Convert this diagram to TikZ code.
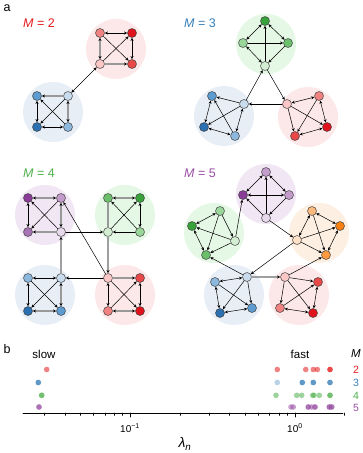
\documentclass[tikz,border=0pt]{standalone}
\usepackage{fontspec}
\setmainfont{Liberation Sans}
\usetikzlibrary{arrows.meta}
\definecolor{darkgray}{RGB}{60,60,60}
% node shades, hub lightest
\definecolor{r1}{HTML}{FBC6C6}
\definecolor{r2}{HTML}{F08282}
\definecolor{r3}{HTML}{E94848}
\definecolor{r4}{HTML}{E0121C}
\definecolor{b1}{HTML}{C9DCEE}
\definecolor{b2}{HTML}{8DB8DE}
\definecolor{b3}{HTML}{5C9CD1}
\definecolor{b4}{HTML}{2B70B0}
\definecolor{g1}{HTML}{D3EDD3}
\definecolor{g2}{HTML}{9AD59A}
\definecolor{g3}{HTML}{6CC06C}
\definecolor{g4}{HTML}{38A33A}
\definecolor{p1}{HTML}{E8DAEC}
\definecolor{p2}{HTML}{C49CCC}
\definecolor{p3}{HTML}{A873B4}
\definecolor{p4}{HTML}{8A3C98}
\definecolor{o1}{HTML}{FDE2C8}
\definecolor{o2}{HTML}{FDBA7C}
\definecolor{o3}{HTML}{FD9A40}
\definecolor{o4}{HTML}{F88012}
% cluster backgrounds
\definecolor{bgr}{HTML}{FCE8E8}
\definecolor{bgb}{HTML}{E8EEF6}
\definecolor{bgg}{HTML}{E5F8E5}
\definecolor{bgp}{HTML}{F1E6F3}
\definecolor{bgo}{HTML}{FDEFE2}
% text and dots
\definecolor{cr}{HTML}{E41A1C}
\definecolor{cb}{HTML}{377EB8}
\definecolor{cg}{HTML}{4DAF4A}
\definecolor{cp}{HTML}{984EA3}
\tikzset{
    lab/.style={
        font=\fontsize{12.5}{15}\selectfont
    }
}

\begin{document}
\begin{tikzpicture}[x=1pt, y=-1pt, line cap=round, line join=round]

\tikzset{
  main/.style={draw=black, line width=0.5pt},
  heavy/.style={draw=gray!80, line width=1.1pt},
  heavier/.style={draw=gray!75, line width=1.8pt},
  vtx/.style={circle, draw=darkgray, line width=0.5pt, minimum size=9pt, inner sep=0pt},
  bgc/.style={radius=30},
  >={Stealth[length=3.2pt, width=3pt, color=black]},
}

\useasboundingbox (0,0) rectangle (362,453);

% panel letters and titles
\node[lab] (la) at (7,8) {a};
\node[lab] (lb) at (7,349) {b};
\node[lab, text=cr] (t2) at (39,23) {\textit{M} = 2};
\node[lab, text=cb] (t3) at (200,23) {\textit{M} = 3};
\node[lab, text=cg] (t4) at (39,173) {\textit{M} = 4};
\node[lab, text=cp] (t5) at (200,173) {\textit{M} = 5};

% backgrounds
\fill[bgr] (116,49) circle[bgc];
\fill[bgb] (53,112) circle[bgc];
\fill[bgg] (266,44) circle[bgc];
\fill[bgb] (224,116) circle[bgc];
\fill[bgr] (308,117) circle[bgc];
\fill[bgp] (45,215) circle[bgc];
\fill[bgg] (125,215) circle[bgc];
\fill[bgb] (45,295) circle[bgc];
\fill[bgr] (125,295) circle[bgc];
\fill[bgp] (266,194) circle[bgc];
\fill[bgg] (214,233) circle[bgc];
\fill[bgo] (319,233) circle[bgc];
\fill[bgb] (234,295) circle[bgc];
\fill[bgr] (299,295) circle[bgc];

% M = 2 vertices
\node[vtx, fill=r2] (R2a) at (100,33) {};
\node[vtx, fill=r4] (R2b) at (132,33) {};
\node[vtx, fill=r3] (R2c) at (132,64) {};
\node[vtx, fill=r1] (R2h) at (100,64) {};
\node[vtx, fill=b1] (B2h) at (68,96) {};
\node[vtx, fill=b3] (B2a) at (37,96) {};
\node[vtx, fill=b4] (B2c) at (37,127) {};
\node[vtx, fill=b2] (B2b) at (68,127) {};

% M = 3 vertices
\node[vtx, fill=g4] (G3t) at (265,21) {};
\node[vtx, fill=g2] (G3l) at (243,43) {};
\node[vtx, fill=g3] (G3r) at (288,43) {};
\node[vtx, fill=g1] (G3h) at (265,66) {};
\node[vtx, fill=b1] (B3h) at (244,104) {};
\node[vtx, fill=b3] (B3a) at (212,96) {};
\node[vtx, fill=b4] (B3c) at (204,127) {};
\node[vtx, fill=b2] (B3b) at (235,136) {};
\node[vtx, fill=r1] (R3h) at (287,104) {};
\node[vtx, fill=r2] (R3a) at (319,96) {};
\node[vtx, fill=r4] (R3c) at (327,127) {};
\node[vtx, fill=r3] (R3b) at (295,136) {};

% M = 4 vertices
\node[vtx, fill=p4] (P4a) at (28,198) {};
\node[vtx, fill=p2] (P4b) at (61,198) {};
\node[vtx, fill=p3] (P4c) at (28,232) {};
\node[vtx, fill=p1] (P4h) at (61,232) {};
\node[vtx, fill=g3] (G4a) at (108,198) {};
\node[vtx, fill=g4] (G4b) at (140,198) {};
\node[vtx, fill=g1] (G4h) at (108,232) {};
\node[vtx, fill=g2] (G4c) at (140,232) {};
\node[vtx, fill=b2] (B4a) at (28,278) {};
\node[vtx, fill=b1] (B4h) at (61,278) {};
\node[vtx, fill=b4] (B4c) at (28,311) {};
\node[vtx, fill=b3] (B4b) at (61,311) {};
\node[vtx, fill=r1] (R4h) at (108,278) {};
\node[vtx, fill=r3] (R4a) at (140,278) {};
\node[vtx, fill=r2] (R4b) at (108,311) {};
\node[vtx, fill=r4] (R4c) at (140,311) {};

% M = 5 vertices
\node[vtx, fill=p2] (P5t) at (266,172) {};
\node[vtx, fill=p4] (P5l) at (243,195) {};
\node[vtx, fill=p2] (P5r) at (289,195) {};
\node[vtx, fill=p1] (P5h) at (266,218) {};
\node[vtx, fill=g2] (G5t) at (220,211) {};
\node[vtx, fill=g4] (G5l) at (192,226) {};
\node[vtx, fill=g1] (G5h) at (235,241) {};
\node[vtx, fill=g3] (G5b) at (206,255) {};
\node[vtx, fill=o2] (O5t) at (312,211) {};
\node[vtx, fill=o4] (O5r) at (340,226) {};
\node[vtx, fill=o3] (O5b) at (326,255) {};
\node[vtx, fill=o1] (O5h) at (297,240) {};
\node[vtx, fill=b1] (B5h) at (247,277) {};
\node[vtx, fill=b2] (B5l) at (215,282) {};
\node[vtx, fill=b4] (B5c) at (220,313) {};
\node[vtx, fill=b3] (B5b) at (252,308) {};
\node[vtx, fill=r1] (R5h) at (285,277) {};
\node[vtx, fill=r3] (R5a) at (318,282) {};
\node[vtx, fill=r4] (R5c) at (313,313) {};
\node[vtx, fill=r2] (R5b) at (280,308) {};

% M = 2 edges
\draw[main, <->] (R2a) -- (R2b);
\draw[heavy, <->] (R2a) -- (R2h);
\draw[main, <->] (R2b) -- (R2c);
\draw[heavy, ->] (R2h) -- (R2c);
\draw[main, ->] (R2h) -- (R2b);
\draw[main, ->] (R2a) -- (R2c);
\draw[heavy, ->] (B2h) -- (B2a);
\draw[heavy, <->] (B2h) -- (B2b);
\draw[main, <->] (B2a) -- (B2c);
\draw[main, <->] (B2c) -- (B2b);
\draw[main, ->] (B2h) -- (B2c);
\draw[main, ->] (B2b) -- (B2a);
\draw[main, <->] (R2h) -- (B2h);

% M = 3 edges
\draw[main, <->] (G3t) -- (G3l);
\draw[main, <->] (G3t) -- (G3r);
\draw[main, ->] (G3l) -- (G3r);
\draw[main, ->] (G3h) -- (G3t);
\draw[main, <->] (G3l) -- (G3h);
\draw[main, ->] (G3r) -- (G3h);
\draw[main, ->] (B3h) -- (B3a);
\draw[main, <->] (B3a) -- (B3c);
\draw[main, <->] (B3c) -- (B3b);
\draw[main, <->] (B3h) -- (B3b);
\draw[main, ->] (B3h) -- (B3c);
\draw[main, ->] (B3b) -- (B3a);
\draw[main, <->] (R3h) -- (R3a);
\draw[main, <->] (R3a) -- (R3c);
\draw[main, <->] (R3c) -- (R3b);
\draw[main, ->] (R3h) -- (R3b);
\draw[main, ->] (R3h) -- (R3c);
\draw[main, ->] (R3a) -- (R3b);
\draw[main, ->] (B3h) -- (G3h);
\draw[main, ->] (G3h) -- (R3h);
\draw[main, ->] (R3h) -- (B3h);

% M = 4 edges
\draw[heavy, <->] (P4a) -- (P4b);
\draw[main, <->] (P4a) -- (P4c);
\draw[heavy, <->] (P4b) -- (P4h);
\draw[heavy, ->] (P4h) -- (P4c);
\draw[main, ->] (P4h) -- (P4a);
\draw[main, ->] (P4b) -- (P4c);
\draw[heavy, <->] (G4a) -- (G4b);
\draw[main, <->] (G4b) -- (G4c);
\draw[main, ->] (G4c) -- (G4h);
\draw[main, ->] (G4h) -- (G4b);
\draw[main, ->] (G4c) -- (G4a);
\draw[heavy] (G4h) -- (G4a);
\draw[main, <->] (B4a) -- (B4h);
\draw[main, <->] (B4a) -- (B4c);
\draw[heavy, <->] (B4c) -- (B4b);
\draw[heavy, <->] (B4h) -- (B4b);
\draw[main, ->] (B4h) -- (B4c);
\draw[main, ->] (B4a) -- (B4b);
\draw[heavy, ->] (R4h) -- (R4a);
\draw[main, <->] (R4h) -- (R4b);
\draw[main, <->] (R4a) -- (R4c);
\draw[heavy, <->] (R4b) -- (R4c);
\draw[main, ->] (R4h) -- (R4c);
\draw[main, ->] (R4b) -- (R4a);
\draw[main, ->] (P4h) -- (G4h);
\draw[heavier, ->] (G4h) -- (R4h);
\draw[main, ->] (R4h) -- (B4h);
\draw[heavier, ->] (B4h) -- (P4h);
\draw[main, ->] (R4h) -- (P4b);

% M = 5 edges
\draw[main, <->] (P5t) -- (P5l);
\draw[main, <->] (P5t) -- (P5r);
\draw[main, <->] (P5l) -- (P5r);
\draw[main, ->] (P5h) -- (P5t);
\draw[main, ->] (P5h) -- (P5l);
\draw[main, ->] (P5r) -- (P5h);
\draw[main, <->] (G5t) -- (G5l);
\draw[main, <->] (G5l) -- (G5b);
\draw[main, ->] (G5t) -- (G5h);
\draw[main, ->] (G5t) -- (G5b);
\draw[main, ->] (G5h) -- (G5l);
\draw[main, ->] (G5h) -- (G5b);
\draw[main, <->] (O5t) -- (O5r);
\draw[main, <->] (O5r) -- (O5b);
\draw[main, <->] (O5t) -- (O5h);
\draw[main, ->] (O5h) -- (O5r);
\draw[main, ->] (O5h) -- (O5b);
\draw[main, ->] (O5t) -- (O5b);
\draw[main, <->] (B5h) -- (B5l);
\draw[main, <->] (B5l) -- (B5c);
\draw[main, <->] (B5c) -- (B5b);
\draw[main, ->] (B5h) -- (B5b);
\draw[main, ->] (B5h) -- (B5c);
\draw[main, ->] (B5l) -- (B5b);
\draw[main, ->] (R5h) -- (R5a);
\draw[main, <->] (R5a) -- (R5c);
\draw[main, <->] (R5c) -- (R5b);
\draw[main, ->] (R5h) -- (R5c);
\draw[main, ->] (R5b) -- (R5a);
\draw[main, ->] (R5h) -- (R5b);
\draw[main, ->] (P5h) -- (O5h);
\draw[main, ->] (O5h) -- (B5h);
\draw[main, ->] (B5h) -- (G5b);
\draw[main, ->] (G5h) -- (P5l);
\draw[heavier, ->] (B5h) -- (R5h);
\draw[main, ->] (R5h) -- (O5b);

% panel b: axis
\coordinate (ax0) at (23,413);
\coordinate (ax1) at (343,413);
\draw[line width=0.6pt] (ax0) -- (ax1);
\foreach \v in {0.03,0.04,0.05,0.06,0.07,0.08,0.09,0.2,0.3,0.4,0.5,0.6,0.7,0.8,0.9,2} {
  \pgfmathsetmacro\xx{295+165*log10(\v)}
  \draw[line width=0.4pt] (\xx,413) -- (\xx,415.5);
}
\draw[line width=0.6pt] (130,413) -- (130,417);
\draw[line width=0.6pt] (295,413) -- (295,417);
\node[font=\fontsize{10}{12}\selectfont] (tk1) at (130,428) {10\textsuperscript{−1}};
\node[font=\fontsize{10}{12}\selectfont] (tk0) at (295,428) {10\textsuperscript{0}};
\node[font=\fontsize{14}{16}\selectfont] (lam) at (185,444) {\textit{λ}\textsubscript{\textit{n}}};

\node[lab, font=\fontsize{11.5}{14}\selectfont] (slow) at (44,354) {slow};
\node[lab, font=\fontsize{11.5}{14}\selectfont] (fast) at (300,354) {fast};
\node[lab, font=\fontsize{11.5}{14}\selectfont] (Mm) at (356,354) {\textit{M}};
\node[font=\fontsize{10.5}{12}\selectfont, text=cr] (n2) at (356,369.5) {2};
\node[font=\fontsize{10.5}{12}\selectfont, text=cb] (n3) at (356,382.5) {3};
\node[font=\fontsize{10.5}{12}\selectfont, text=cg] (n4) at (356,395.5) {4};
\node[font=\fontsize{10.5}{12}\selectfont, text=cp] (n5) at (356,407.5) {5};

% eigenvalue dots (repeated = darker)
\foreach \x in {46.7,277.3,305.7,313.3,317.3,330,330}
  \fill[cr, opacity=0.55] (\x,369.5) circle[radius=2.8];
\foreach \x in {38.3,38.3,302.3,302.3,313.3,313.3,330,330}
  \fill[cb, opacity=0.55] (\x,382.5) circle[radius=2.8];
\fill[cb, opacity=0.35] (277.3,382.5) circle[radius=2.8];
\foreach \x in {41.7,41.7,276,296.7,301.7,312.7,314,319.3,330,330}
  \fill[cg, opacity=0.55] (\x,395.3) circle[radius=2.8];
\foreach \x in {39,39,291,293.3,308.3,308.3,311.7,315,315,329.3,329.3,331.7,331.7}
  \fill[cp, opacity=0.55] (\x,407) circle[radius=2.8];

\end{tikzpicture}
\end{document}
